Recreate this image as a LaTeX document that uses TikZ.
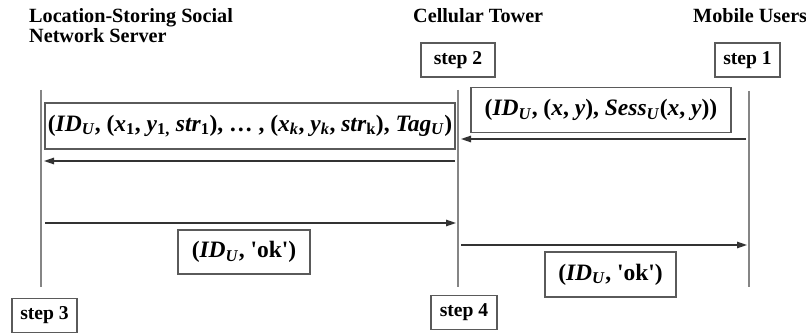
\documentclass[tikz,border=0pt]{standalone}
\usepackage{fontspec}
\setmainfont{Liberation Serif}
\usetikzlibrary{arrows.meta}
\definecolor{lifeGray}{HTML}{858585}
\definecolor{boxGray}{HTML}{5A5A5A}
\definecolor{arrowInk}{HTML}{333333}
\newcommand{\iv}[1]{\textit{#1}}
\newcommand{\isub}[1]{\textsubscript{\textit{#1}}}
\newcommand{\okq}{\textquotesingle ok\textquotesingle}

\begin{document}
\begin{tikzpicture}[x=1pt, y=-1pt,
    roleLabel/.style={anchor=north west, align=left, font=\fontsize{20.2}{20.5}\selectfont\bfseries, inner sep=0pt},
    stepBox/.style={draw=boxGray, line width=1.1pt, rectangle, minimum height=34pt, font=\fontsize{19.6}{20}\selectfont\bfseries, inner sep=0pt},
    msgBox/.style={draw=boxGray, line width=1.2pt, rectangle, minimum height=45pt, font=\fontsize{23.5}{24}\selectfont\bfseries, inner sep=0pt},
    lifeLine/.style={draw=lifeGray, line width=1.8pt},
    msgArrow/.style={draw=arrowInk, line width=1.3pt, -{Triangle[length=10pt, width=6.5pt]}},
]
\useasboundingbox (0,0) rectangle (806,334);

% roles
\node[roleLabel] (server) at (29, 8) {Location-Storing Social\\Network Server};
\node[roleLabel] (tower)  at (413, 8) {Cellular Tower};
\node[roleLabel] (mobile) at (693, 8) {Mobile Users};

% lifelines
\coordinate (srvTop) at (41, 90);  \coordinate (srvBot) at (41, 287);
\coordinate (twrTop) at (458, 90); \coordinate (twrBot) at (458, 287);
\coordinate (mobTop) at (749, 91); \coordinate (mobBot) at (749, 287);
\draw[lifeLine] (srvTop) -- (srvBot);
\draw[lifeLine] (twrTop) -- (twrBot);
\draw[lifeLine] (mobTop) -- (mobBot);

% steps
\node[stepBox, minimum width=74pt] (step2) at (458, 60) {step 2};
\node[stepBox, minimum width=65pt] (step1) at (747.5, 60) {step 1};
\node[stepBox, minimum width=65pt] (step3) at (44.5, 315.5) {step 3};
\node[stepBox, minimum width=66pt] (step4) at (464, 312.5) {step 4};

% messages
\node[msgBox, minimum width=260pt] (sessMsg) at (601, 110)
    {(\iv{ID}\isub{U}, (\iv{x}, \iv{y}), \iv{Sess}\isub{U}(\iv{x}, \iv{y}))};
\node[msgBox, minimum width=410pt, minimum height=46pt] (tagMsg) at (250, 126)
    {(\iv{ID}\isub{U}, (\iv{x}\textsubscript{1}, \iv{y}\textsubscript{1,} \iv{str}\textsubscript{1}), \dots\ , (\iv{x}\isub{k}, \iv{y}\isub{k}, \iv{str}\textsubscript{k}), \iv{Tag}\isub{U})};
\node[msgBox, minimum width=132pt, minimum height=44pt] (okTwr) at (244, 252) {(\iv{ID}\isub{U}, \okq)};
\node[msgBox, minimum width=131pt] (okMob) at (610.5, 274.5) {(\iv{ID}\isub{U}, \okq)};

% arrows
\coordinate (a1s) at (746, 139); \coordinate (a1e) at (461, 139);
\coordinate (a2s) at (455, 161); \coordinate (a2e) at (44, 161);
\coordinate (a3s) at (45, 223);  \coordinate (a3e) at (456, 223);
\coordinate (a4s) at (461, 245); \coordinate (a4e) at (747, 245);
\draw[msgArrow] (a1s) -- (a1e);
\draw[msgArrow] (a2s) -- (a2e);
\draw[msgArrow] (a3s) -- (a3e);
\draw[msgArrow] (a4s) -- (a4e);
\end{tikzpicture}
\end{document}
